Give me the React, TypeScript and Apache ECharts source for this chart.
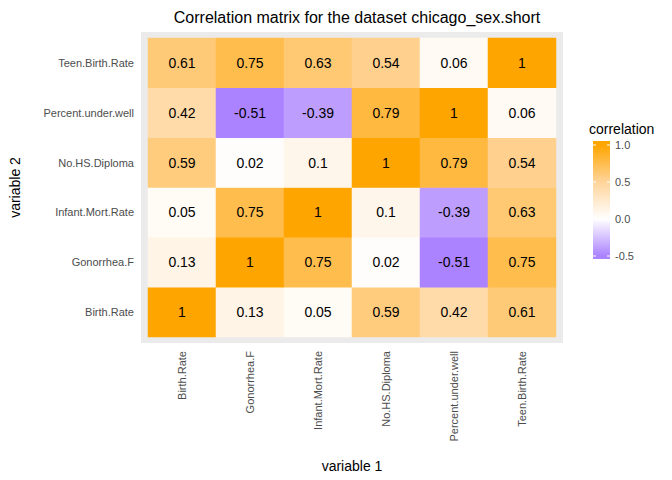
import { useEffect, useRef } from 'react';
import * as echarts from 'echarts';

const VARS = ['Birth.Rate', 'Gonorrhea.F', 'Infant.Mort.Rate', 'No.HS.Diploma', 'Percent.under.well', 'Teen.Birth.Rate'];
// rows follow VARS order (bottom to top), columns follow VARS order (left to right)
const CORR: number[][] = [
  [1, 0.13, 0.05, 0.59, 0.42, 0.61],
  [0.13, 1, 0.75, 0.02, -0.51, 0.75],
  [0.05, 0.75, 1, 0.1, -0.39, 0.63],
  [0.59, 0.02, 0.1, 1, 0.79, 0.54],
  [0.42, -0.51, -0.39, 0.79, 1, 0.06],
  [0.61, 0.75, 0.63, 0.54, 0.06, 1],
];
const LEGEND_TICKS = [1.0, 0.5, 0.0, -0.5];
const COLORS = ['#AB82FF', '#FFFFFF', '#FFD49A', '#FFA500'];

const FONT = 'Liberation Sans, Arial, sans-serif';

export default function App() {
  const ref = useRef<HTMLDivElement>(null);

  useEffect(() => {
    if (!ref.current) return;
    const chart = echarts.init(ref.current, undefined, { renderer: 'svg' });
    const data: [number, number, number][] = [];
    CORR.forEach((row, y) => row.forEach((v, x) => data.push([x, y, v])));

    // legend bar geometry
    const lx = 593, top = 145, span = 111;
    const yOf = (v: number) => top + ((1 - v) / 1.5) * span;
    const barTop = 141, barBot = 259;
    const off = (v: number) => (yOf(v) - barTop) / (barBot - barTop);

    chart.setOption({
      animation: false,
      textStyle: { fontFamily: FONT },
      title: {
        text: 'Correlation matrix for the dataset chicago_sex.short',
        left: 352, top: 4, textAlign: 'center',
        textStyle: { fontFamily: FONT, fontSize: 16, fontWeight: 'normal', color: '#000' },
      },
      grid: { left: 148, right: 116, top: 38, bottom: 143 },
      xAxis: {
        type: 'category', data: VARS, name: 'variable 1', nameLocation: 'middle', nameGap: 122,
        nameTextStyle: { fontFamily: FONT, fontSize: 14, color: '#000' },
        axisLine: { show: false }, splitLine: { show: false },
        axisTick: { alignWithLabel: true, length: 3, lineStyle: { color: '#333' } },
        axisLabel: { rotate: 90, fontSize: 11, color: '#4d4d4d', margin: 14, fontFamily: FONT },
      },
      yAxis: {
        type: 'category', data: VARS, name: 'variable 2', nameLocation: 'middle', nameGap: 126,
        nameTextStyle: { fontFamily: FONT, fontSize: 14, color: '#000' },
        axisLine: { show: false }, splitLine: { show: false },
        axisTick: { alignWithLabel: true, length: 3, lineStyle: { color: '#333' } },
        axisLabel: { fontSize: 11, color: '#4d4d4d', margin: 14, fontFamily: FONT },
      },
      visualMap: { show: false, min: -0.5, max: 1, inRange: { color: COLORS }, dimension: 2 },
      series: [{
        type: 'heatmap', data,
        label: { show: true, fontSize: 14, color: '#000', fontFamily: FONT },
      }],
      graphic: [
        { type: 'rect', z: -10, shape: { x: 141, y: 32, width: 422, height: 311 }, style: { fill: '#EBEBEB' } },
        { type: 'text', left: 589, top: 122, style: { text: 'correlation', font: `14px ${FONT}`, fill: '#000' } },
        {
          type: 'rect', shape: { x: lx, y: barTop, width: 17, height: barBot - barTop },
          style: {
            fill: new echarts.graphic.LinearGradient(0, 0, 0, 1, [
              { offset: 0, color: COLORS[3] },
              { offset: off(1), color: COLORS[3] },
              { offset: off(0.5), color: COLORS[2] },
              { offset: off(0), color: COLORS[1] },
              { offset: off(-0.5), color: COLORS[0] },
              { offset: 1, color: COLORS[0] },
            ]),
          },
        },
        ...LEGEND_TICKS.flatMap((v) => [
          { type: 'line', shape: { x1: lx, y1: yOf(v), x2: lx + 3, y2: yOf(v) }, style: { stroke: '#fff', lineWidth: 1 } },
          { type: 'line', shape: { x1: lx + 14, y1: yOf(v), x2: lx + 17, y2: yOf(v) }, style: { stroke: '#fff', lineWidth: 1 } },
          {
            type: 'text', x: lx + 22, y: yOf(v),
            style: { text: v.toFixed(1), font: `11px ${FONT}`, fill: '#4d4d4d', verticalAlign: 'middle' },
          },
        ]),
      ],
    });
    return () => chart.dispose();
  }, []);

  return <div ref={ref} style={{ position: 'absolute', left: 0, top: 0, width: 672, height: 480 }} />;
}
